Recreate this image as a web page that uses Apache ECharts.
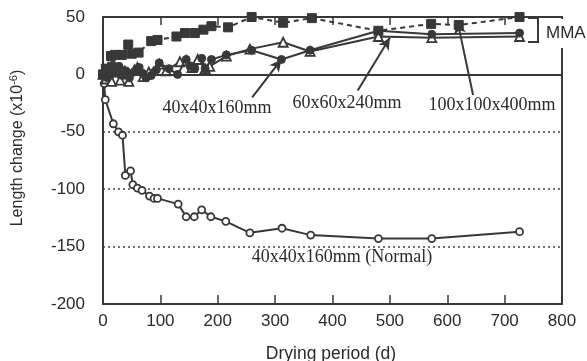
<!DOCTYPE html>
<html><head><meta charset="utf-8">
<script src="https://cdn.jsdelivr.net/npm/echarts@6/dist/echarts.min.js"></script>
<style>html,body{margin:0;padding:0;background:#fff}#c{width:587px;height:361px}</style>
</head><body><div id="c"></div>
<script>
// Drying period (d), length change (x10^-6)
var normal40 = [[0,0],[2,-8],[4,-22],[18,-43],[27,-50],[34,-53],[39,-88],[48,-84],[52,-96],[60,-99],[68,-101],[81,-106],[89,-108],[95,-108],[131,-113],[145,-124],[159,-124],[172,-118],[188,-124],[214,-128],[256,-138],[312,-134],[362,-140],[480,-143],[573,-143],[726,-137]];
var mma40 = [[0,0],[4,3],[8,-3],[11,4],[17,8],[22,2],[28,7],[34,-1],[40,3],[46,-3],[54,2],[63,6],[69,1],[75,-3],[84,-1],[93,4],[98,10],[115,5],[130,0],[145,13],[152,7],[160,5],[172,14],[178,5],[189,13],[215,17],[259,21],[311,13],[361,21],[480,38],[573,35],[726,36]];
var mma60 = [[0,0],[5,-4],[10,5],[15,-6],[20,2],[30,-5],[38,3],[45,-6],[55,4],[60,6],[70,-2],[80,2],[98,9],[110,3],[134,11],[146,12],[155,6],[165,13],[178,5],[186,7],[215,16],[256,22],[314,28],[361,20],[480,33],[573,32],[726,33]];
var mma100 = [[0,0],[5,5],[14,16],[21,17],[33,17],[44,26],[50,18],[62,19],[84,29],[95,30],[128,33],[143,36],[160,36],[175,39],[189,42],[218,41],[259,50],[314,45],[364,49],[480,38],[572,44],[620,43],[726,50]];
var xTicks = [0,100,200,300,400,500,600,700,800];
var yTicks = [-200,-150,-100,-50,0,50];
// arrows: [tail, head]
var arrows = [[[260,-20],[311,13]],[[444,-14],[500,32]],[[645,-18],[618,46]]];
var labels = ['40x40x160mm','60x60x240mm','100x100x400mm','40x40x160mm (Normal)','MMA'];

var C = '#383838';
var T = '#2a2a2a';
var chart = echarts.init(document.getElementById('c'));
var serifFont = '"Liberation Serif","Times New Roman",serif';
var sansFont = '"Liberation Sans",Arial,sans-serif';
chart.setOption({
  animation:false,
  grid:{left:103,right:25,top:17,bottom:57},
  xAxis:[{type:'value',min:xTicks[0],max:xTicks[xTicks.length-1],interval:100,
    axisLine:{show:true,onZero:false,lineStyle:{color:C,width:2}},
    axisTick:{show:true,inside:true,length:9,lineStyle:{color:C,width:1.5}},
    axisLabel:{fontSize:17,color:T,margin:9,fontFamily:sansFont},
    splitLine:{show:false}},
   {type:'value',position:'top',min:0,max:800,interval:100,
    axisLine:{show:true,onZero:false,lineStyle:{color:C,width:2}},
    axisTick:{show:true,inside:true,length:8,lineStyle:{color:C,width:1.5}},
    axisLabel:{show:false},splitLine:{show:false}}],
  yAxis:[{type:'value',min:yTicks[0],max:yTicks[yTicks.length-1],interval:50,
    axisLine:{show:true,onZero:false,lineStyle:{color:C,width:2}},
    axisTick:{show:false},
    axisLabel:{fontSize:17,color:T,margin:18,fontFamily:sansFont},
    splitLine:{show:true,lineStyle:{color:'#444',type:[2,3],width:1.5}}},
   {type:'value',position:'right',min:-200,max:50,interval:50,
    axisLine:{show:true,onZero:false,lineStyle:{color:C,width:2}},
    axisTick:{show:false},axisLabel:{show:false},splitLine:{show:false}}],
  series:[
    {type:'line',data:normal40,symbol:'circle',symbolSize:7,
     lineStyle:{color:C,width:2},itemStyle:{color:'#fff',borderColor:C,borderWidth:1.8},
     markLine:{silent:true,symbol:['none','none'],label:{show:false},
       lineStyle:{color:C,width:2,type:'solid'},data:[{yAxis:0}]}},
    {type:'line',data:mma100,symbol:'rect',symbolSize:9,
     lineStyle:{color:C,width:2,type:[5,4]},itemStyle:{color:C,borderColor:C}},
    {type:'line',data:mma60,symbol:'triangle',symbolSize:9,
     lineStyle:{color:C,width:2},itemStyle:{color:'#fff',borderColor:C,borderWidth:1.8}},
    {type:'line',data:mma40,symbol:'circle',symbolSize:8,
     lineStyle:{color:C,width:2},itemStyle:{color:C,borderColor:C},
     markLine:{silent:true,symbol:['none','arrow'],symbolSize:[9,12],label:{show:false},
       lineStyle:{color:C,width:2,type:'solid'},
       data:arrows.map(function(a){return [{coord:a[0]},{coord:a[1]}];})}}
  ],
  graphic:[
    {type:'text',x:217,y:108,style:{text:labels[0],font:'18px '+serifFont,fill:T,align:'center',verticalAlign:'middle'}},
    {type:'text',x:347,y:103,style:{text:labels[1],font:'18px '+serifFont,fill:T,align:'center',verticalAlign:'middle'}},
    {type:'text',x:492,y:105,style:{text:labels[2],font:'18px '+serifFont,fill:T,align:'center',verticalAlign:'middle'}},
    {type:'text',x:342,y:257,style:{text:labels[3],font:'18px '+serifFont,fill:T,align:'center',verticalAlign:'middle'}},
    {type:'rect',shape:{x:542,y:19,width:45,height:29},style:{fill:'#fff'},z:50},
    {type:'text',x:546,y:33,z:51,style:{text:labels[4],font:'17px '+sansFont,fill:T,align:'left',verticalAlign:'middle'}},
    {type:'polyline',z:52,shape:{points:[[528,18],[538,18],[538,42],[528,42]]},style:{stroke:C,lineWidth:2,fill:null}},
    {type:'text',x:18,y:148,rotation:Math.PI/2,style:{
      text:'{a|Length change (x10}{s|-6}{a|)}',align:'center',verticalAlign:'middle',
      rich:{a:{fontSize:16,fontFamily:sansFont,fill:T},s:{fontSize:11,fontFamily:sansFont,fill:T,verticalAlign:'top',padding:[0,0,8,0]}}}},
    {type:'text',x:331,y:345,style:{text:'Drying period (d)',font:'17.5px '+sansFont,fill:T,align:'center',verticalAlign:'top'}}
  ]
});
</script></body></html>
